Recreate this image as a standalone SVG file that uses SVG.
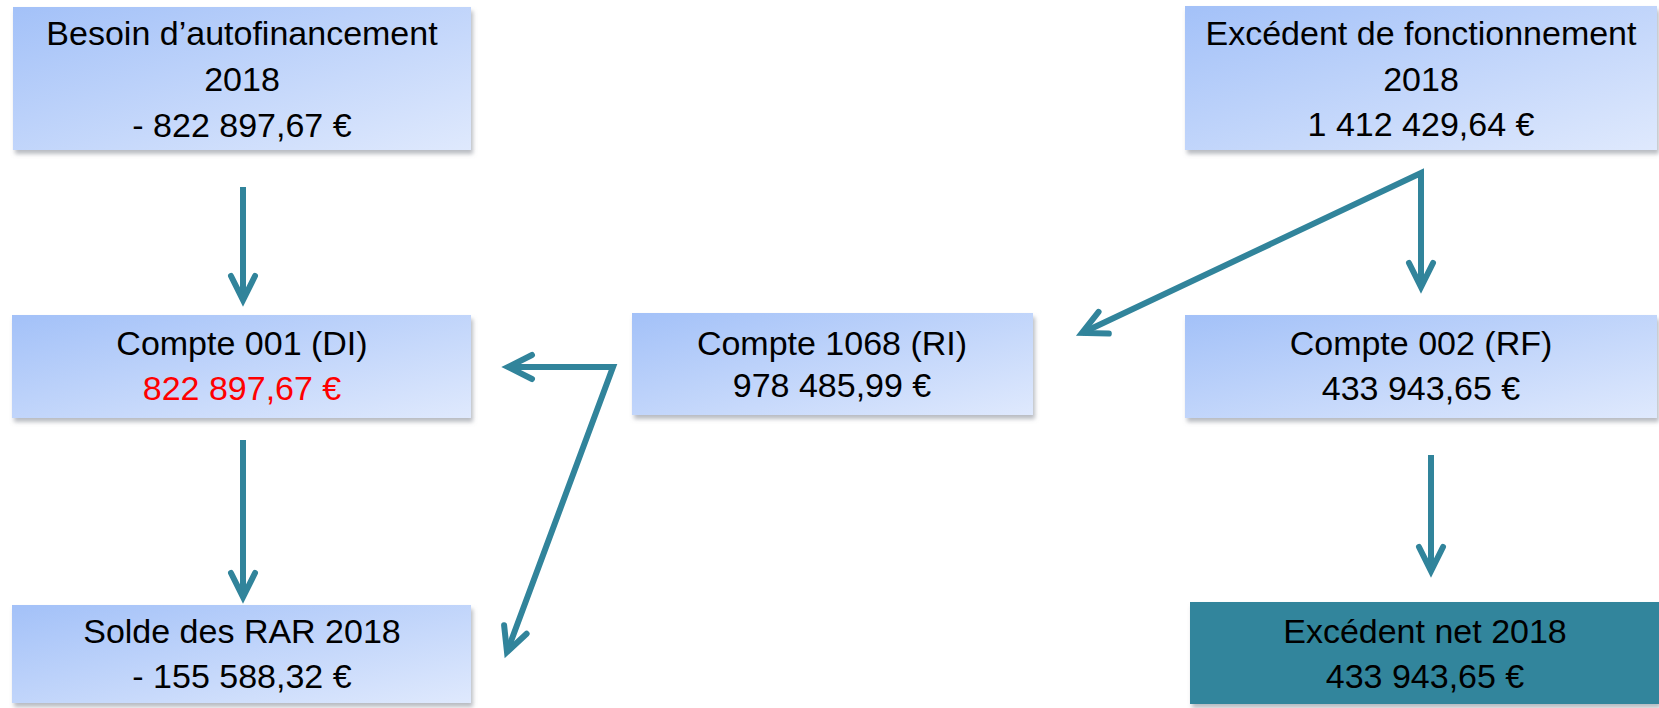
<svg xmlns="http://www.w3.org/2000/svg" width="1659" height="708" viewBox="0 0 1659 708">
<style>
.box{fill:url(#blueGrad);filter:url(#shadow)}
.dark{fill:#31859c;filter:url(#shadow)}
.t{font-family:"Liberation Sans",Arial,sans-serif;font-size:34px;fill:#000;text-anchor:middle}
.red{fill:#ff0000}
.conn{fill:none;stroke:#31849b;stroke-width:6;stroke-linejoin:miter}
</style>
<defs>
<linearGradient id="blueGrad" x1="0" y1="0" x2="1" y2="1">
<stop offset="0" stop-color="#a3c1f8"/>
<stop offset="1" stop-color="#dfe9fd"/>
</linearGradient>
<filter id="shadow" x="-5%" y="-10%" width="115%" height="130%">
<feDropShadow dx="2" dy="4" stdDeviation="2" flood-color="#7f8590" flood-opacity="0.55"/>
</filter>
<marker id="chev" markerUnits="userSpaceOnUse" viewBox="-32 -18 38 36" markerWidth="38" markerHeight="36" refX="0" refY="0" orient="auto-start-reverse" overflow="visible">
<path d="M-24,-12 L0,0 L-24,12" fill="none" stroke="#31849b" stroke-width="6" stroke-linecap="round" stroke-linejoin="miter"/>
</marker>
</defs>
<rect width="1659" height="708" fill="#ffffff"/>
<g id="connectors">
<path class="conn" d="M243,187 L243,300" marker-end="url(#chev)"/>
<path class="conn" d="M243,440 L243,597" marker-end="url(#chev)"/>
<path class="conn" d="M1082,333 L1421,173 L1421,287" marker-start="url(#chev)" marker-end="url(#chev)"/>
<path class="conn" d="M508,367 L613,367 L507,652" marker-start="url(#chev)" marker-end="url(#chev)"/>
<path class="conn" d="M1431,455 L1431,571" marker-end="url(#chev)"/>
</g>
<g id="besoin">
<rect class="box" x="13" y="7" width="458" height="143"/>
<text class="t" x="242" y="45">Besoin d’autofinancement</text>
<text class="t" x="242" y="91">2018</text>
<text class="t" x="242" y="137">- 822 897,67 €</text>
</g>
<g id="excedent-fonctionnement">
<rect class="box" x="1185" y="6" width="472" height="144"/>
<text class="t" x="1421" y="45">Excédent de fonctionnement</text>
<text class="t" x="1421" y="91">2018</text>
<text class="t" x="1421" y="136">1 412 429,64 €</text>
</g>
<g id="compte-001">
<rect class="box" x="12" y="315" width="459" height="103"/>
<text class="t" x="242" y="355">Compte 001 (DI)</text>
<text class="t red" x="242" y="400">822 897,67 €</text>
</g>
<g id="compte-1068">
<rect class="box" x="632" y="313" width="401" height="102"/>
<text class="t" x="832" y="355">Compte 1068 (RI)</text>
<text class="t" x="832" y="397">978 485,99 €</text>
</g>
<g id="compte-002">
<rect class="box" x="1185" y="315" width="472" height="103"/>
<text class="t" x="1421" y="355">Compte 002 (RF)</text>
<text class="t" x="1421" y="400">433 943,65 €</text>
</g>
<g id="solde-rar">
<rect class="box" x="12" y="605" width="459" height="98"/>
<text class="t" x="242" y="643">Solde des RAR 2018</text>
<text class="t" x="242" y="688">- 155 588,32 €</text>
</g>
<g id="excedent-net">
<rect class="dark" x="1190" y="602" width="469" height="102"/>
<text class="t" x="1425" y="643">Excédent net 2018</text>
<text class="t" x="1425" y="688">433 943,65 €</text>
</g>
</svg>
